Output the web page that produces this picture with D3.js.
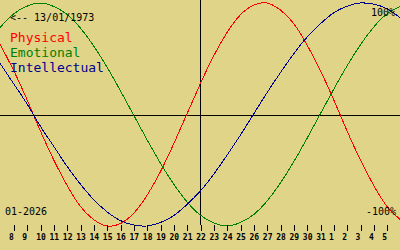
<!DOCTYPE html>
<html>
<head>
<meta charset="utf-8">
<script src="https://cdn.jsdelivr.net/npm/d3@7"></script>
<style>
  body { margin: 0; background: #e0d488; }
  svg { display: block; }
  text { font-family: "DejaVu Sans Mono", monospace; }
</style>
</head>
<body>
<div class="chart"></div>
<script>
var svgWidth = 400;
var svgHeight = 250;

// days shown: 7 Jan 2026 .. 6 Feb 2026, centre day 22 Jan
var startDay = new Date(2026, 0, 7);
var endDay = new Date(2026, 1, 6);
var centreDay = new Date(2026, 0, 22);
var birthLabel = "<-- 13/01/1973";
var monthLabel = "01-2026";

// values in %, one per day from 7 Jan to 6 Feb
var physical = [63, 40, 14, -14, -40, -63, -82, -94, -100, -98, -89, -73, -52, -27, 0,
  27, 52, 73, 89, 98, 100, 94, 82, 63, 40, 14, -14, -40, -63, -82, -94];
var emotional = [78, 90, 97, 100, 97, 90, 78, 62, 43, 22, 0, -22, -43, -62, -78,
  -90, -97, -100, -97, -90, -78, -62, -43, -22, 0, 22, 43, 62, 78, 90, 97];
var intellectual = [46, 28, 10, -10, -28, -46, -62, -76, -87, -95, -99, -100, -97, -91, -81,
  -69, -54, -37, -19, 0, 19, 37, 54, 69, 81, 91, 97, 100, 99, 95, 87];

var seriesNames = ["Physical", "Emotional", "Intellectual"];
var seriesColors = ["#ff0000", "#008000", "#000090"];

var days = d3.timeDay.range(startDay, d3.timeDay.offset(endDay, 1));
var tickDays = d3.timeDay.range(d3.timeDay.offset(startDay, 1), endDay);

var svg = d3.select(".chart")
  .append("svg")
  .attr("width", svgWidth)
  .attr("height", svgHeight);

var x = d3.scaleTime()
  .domain([startDay, endDay])
  .range([0, svgWidth]);

var y = d3.scaleLinear()
  .domain([-100, 100])
  .range([226, 3]);

// zero line and centre line
svg.append("line")
  .attr("x1", 0)
  .attr("x2", svgWidth)
  .attr("y1", Math.round(y(0)) + 0.5)
  .attr("y2", Math.round(y(0)) + 0.5)
  .attr("stroke", "black")
  .attr("shape-rendering", "crispEdges");

svg.append("line")
  .attr("x1", x(centreDay) + 0.5)
  .attr("x2", x(centreDay) + 0.5)
  .attr("y1", 0)
  .attr("y2", 225)
  .attr("stroke", "black")
  .attr("shape-rendering", "crispEdges");

// curves
var line = d3.line()
  .x(function(d, i) { return x(days[i]); })
  .y(function(d) { return y(d); })
  .curve(d3.curveNatural);

[physical, emotional, intellectual].forEach(function(values, i) {
  svg.append("path")
    .datum(values)
    .attr("d", line)
    .attr("fill", "none")
    .attr("stroke", seriesColors[i])
    .attr("stroke-width", 1)
    .attr("shape-rendering", "crispEdges");
});

// day axis
var axis = svg.append("g")
  .attr("transform", "translate(0.5, 225)")
  .call(d3.axisBottom(x)
    .tickValues(tickDays)
    .tickSize(6)
    .tickFormat(d3.timeFormat("%-d")));

axis.select(".domain").remove();
axis.selectAll("line").attr("shape-rendering", "crispEdges");
axis.selectAll("text")
  .attr("font-family", "DejaVu Sans Mono, monospace")
  .attr("font-size", "8px")
  .attr("font-weight", "bold")
  .attr("fill", "black")
  .attr("y", 9)
  .attr("dx", function(d) { return d.getDate() < 10 ? -3 : 0; });

// labels
svg.append("text")
  .attr("x", 10)
  .attr("y", 21)
  .attr("font-size", "10px")
  .attr("fill", "black")
  .text(birthLabel);

seriesNames.forEach(function(name, i) {
  svg.append("text")
    .attr("x", 10)
    .attr("y", 42 + i * 15)
    .attr("font-size", "13px")
    .attr("fill", seriesColors[i])
    .text(name);
});

svg.append("text")
  .attr("x", 395)
  .attr("y", 16)
  .attr("text-anchor", "end")
  .attr("font-size", "10px")
  .text("100%");

svg.append("text")
  .attr("x", 396)
  .attr("y", 215)
  .attr("text-anchor", "end")
  .attr("font-size", "10px")
  .text("-100%");

svg.append("text")
  .attr("x", 5)
  .attr("y", 215)
  .attr("font-size", "10px")
  .text(monthLabel);
</script>
</body>
</html>
